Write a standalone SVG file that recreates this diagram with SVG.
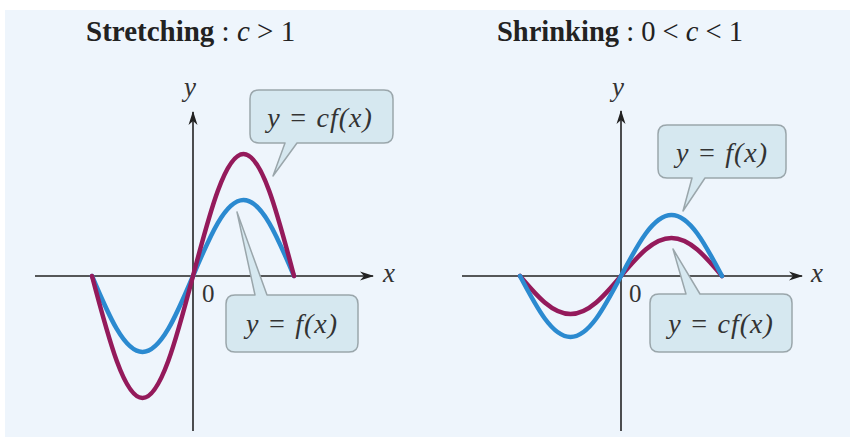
<svg xmlns="http://www.w3.org/2000/svg" width="854" height="437" viewBox="0 0 854 437">
<style>
.title{font-family:"Liberation Serif","Times New Roman",serif;fill:#222}
.b{font-weight:bold}
.it{font-style:italic}
.ax{stroke:#222;stroke-width:1.6;fill:none}
.lbl{font-family:"Liberation Serif","Times New Roman",serif;font-style:italic;font-size:27px;fill:#333}
.zero{font-family:"Liberation Serif","Times New Roman",serif;font-size:25px;fill:#333}
.blue{stroke:#2b8ad0;stroke-width:4.5;fill:none;stroke-linecap:round}
.purple{stroke:#941a5b;stroke-width:4.5;fill:none;stroke-linecap:round}
.call{fill:#d6e8f0;stroke:#9aa6ab;stroke-width:1.5;stroke-linejoin:round}
.ctext{font-family:"Liberation Serif","Times New Roman",serif;font-style:italic;font-size:28px;fill:#333;letter-spacing:1px;text-anchor:middle}
</style>
<defs>
<marker id="arr" viewBox="0 0 14 10" refX="13" refY="5" markerWidth="14" markerHeight="10" markerUnits="userSpaceOnUse" orient="auto">
<path d="M0,0.5 L14,5 L0,9.5 L4,5 Z" fill="#222"/>
</marker>
</defs>
<rect x="5" y="10" width="845" height="427" fill="#eef5fc"/>

<g id="title-left">
<text class="title" x="86" y="41" font-size="29"><tspan class="b">Stretching</tspan> : <tspan class="it">c</tspan> &gt; 1</text>
</g>
<g id="title-right">
<text class="title" x="497" y="41" font-size="28.5"><tspan class="b">Shrinking</tspan> : 0 &lt; <tspan class="it">c</tspan> &lt; 1</text>
</g>

<g id="axes-left">
<line class="ax" x1="35" y1="276" x2="373" y2="276" marker-end="url(#arr)"/>
<line class="ax" x1="193" y1="431" x2="193" y2="112" marker-end="url(#arr)"/>
<text class="lbl" x="383" y="282">x</text>
<text class="lbl" x="184" y="96">y</text>
<text class="zero" x="202" y="302">0</text>
</g>
<g id="axes-right">
<line class="ax" x1="462" y1="276" x2="802" y2="276" marker-end="url(#arr)"/>
<line class="ax" x1="621" y1="431" x2="621" y2="111" marker-end="url(#arr)"/>
<text class="lbl" x="811" y="282">x</text>
<text class="lbl" x="612" y="96">y</text>
<text class="zero" x="629" y="302">0</text>
</g>

<g id="curves-left">
<path class="blue" d="M92,276 C108.88,315.9 124.32,352 142.5,352 C160.68,352 176.12,315.9 193,276 C209.88,236.1 225.32,200 243.5,200 C261.68,200 277.12,236.1 294,276"/>
<path class="purple" d="M92,276 C108.88,340.06 124.32,398 142.5,398 C160.68,398 176.12,340.06 193,276 C209.88,211.94 225.32,154 243.5,154 C261.68,154 277.12,211.94 294,276"/>
</g>
<g id="curves-right">
<path class="purple" d="M520,276 C536.88,295.95 552.32,314 570.5,314 C588.68,314 604.12,295.95 621,276 C637.88,256.05 653.32,238 671.5,238 C689.68,238 705.12,256.05 722,276"/>
<path class="blue" d="M520,276 C536.88,308.03 552.32,337 570.5,337 C588.68,337 604.12,308.03 621,276 C637.88,243.97 653.32,215 671.5,215 C689.68,215 705.12,243.97 722,276"/>
</g>

<g id="connectors">
<g id="callout-left-cf">
<path class="call" d="M259,90 H384 Q393,90 393,99 V134 Q393,143 384,143 H297 L273,176 L285,143 H259 Q250,143 250,134 V99 Q250,90 259,90 Z"/>
<text class="ctext" x="320" y="127">y = cf(x)</text>
</g>
<g id="callout-left-f">
<path class="call" d="M235,295 H255 L237,212 L267,295 H349 Q358,295 358,304 V343 Q358,352 349,352 H235 Q226,352 226,343 V304 Q226,295 235,295 Z"/>
<text class="ctext" x="292" y="333">y = f(x)</text>
</g>
<g id="callout-right-f">
<path class="call" d="M667,125 H777 Q786,125 786,134 V169 Q786,178 777,178 H705 L683,211 L692,178 H667 Q658,178 658,169 V134 Q658,125 667,125 Z"/>
<text class="ctext" x="722" y="162">y = f(x)</text>
</g>
<g id="callout-right-cf">
<path class="call" d="M659,294 H686 L673,249 L700,294 H783 Q792,294 792,303 V343 Q792,352 783,352 H659 Q650,352 650,343 V303 Q650,294 659,294 Z"/>
<text class="ctext" x="721" y="333">y = cf(x)</text>
</g>
</g>
</svg>
